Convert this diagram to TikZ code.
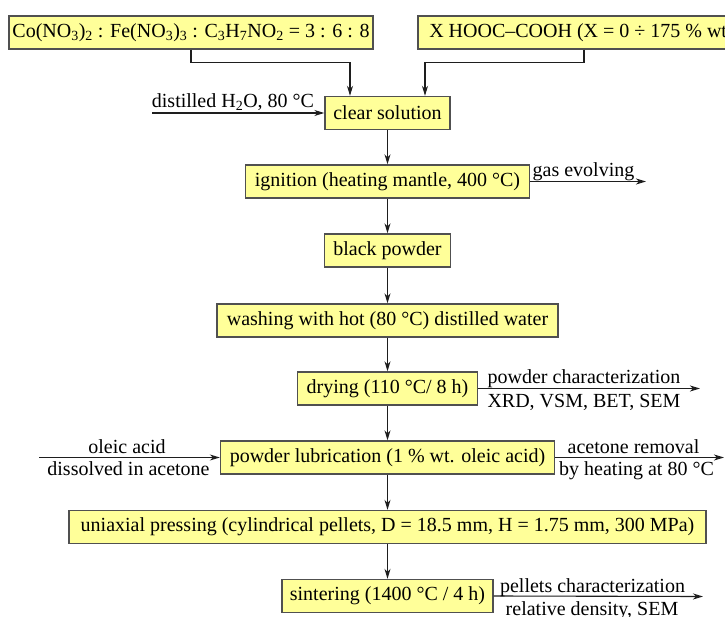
\documentclass[tikz,border=0pt]{standalone}
\usepackage{fontspec}
\setmainfont{Liberation Serif}
\usetikzlibrary{arrows.meta}
\definecolor{boxfill}{RGB}{255,255,153}
\definecolor{boxline}{RGB}{80,80,80}
\definecolor{linec}{RGB}{30,30,30}
\begin{document}
\begin{tikzpicture}[x=1pt,y=-1pt,
  stepbox/.style={draw=boxline, fill=boxfill, line width=1.4pt, inner sep=0pt,
    minimum height=33pt, font=\fontsize{20}{24}\selectfont},
  lbl/.style={inner sep=0pt, font=\fontsize{20}{24}\selectfont, text=black},
  arr/.style={draw=linec, line width=1.1pt, -{Stealth[length=10pt,width=6pt,inset=3pt]}}]
\useasboundingbox (0,0) rectangle (725,617);
\fill[white] (0,0) rectangle (725,617);
\clip (0,0) rectangle (725,617);

\node[stepbox, minimum width=364pt] (b1) at (191,32.5)
  {Co(NO\textsubscript{3})\textsubscript{2} : Fe(NO\textsubscript{3})\textsubscript{3} : C\textsubscript{3}H\textsubscript{7}NO\textsubscript{2} = 3 : 6 : 8};
\node[stepbox, minimum width=332pt] (b2) at (584,32.5) {X HOOC–COOH (X = 0 ÷ 175 \% wt.)};
\node[stepbox, minimum width=125pt] (cs) at (387.5,113) {clear solution};
\node[stepbox, minimum width=284pt] (ign) at (387.5,181.5) {ignition (heating mantle, 400 °C)};
\node[stepbox, minimum width=126pt] (bp) at (387.5,250.5) {black powder};
\node[stepbox, minimum width=341pt] (wash) at (387.5,320.5) {washing with hot (80 °C) distilled water};
\node[stepbox, minimum width=180pt] (dry) at (387.5,388.5) {drying (110 °C/ 8 h)};
\node[stepbox, minimum width=334pt] (lub) at (387.5,457.5) {powder lubrication (1 \% wt. oleic acid)};
\node[stepbox, minimum width=637pt] (pres) at (387.5,527) {uniaxial pressing (cylindrical pellets, D = 18.5 mm, H = 1.75 mm, 300 MPa)};
\node[stepbox, minimum width=211pt] (sint) at (387.5,596) {sintering (1400 °C / 4 h)};

% top connectors
\draw[arr] (b1.south) -- ++(0,13) -| ([xshift=-37.5pt]cs.north);
\draw[arr] (b2.south) -- ++(0,13) -| ([xshift=37.5pt]cs.north);

% main chain
\draw[arr] (cs) -- (ign);
\draw[arr] (ign) -- (bp);
\draw[arr] (bp) -- (wash);
\draw[arr] (wash) -- (dry);
\draw[arr] (dry) -- (lub);
\draw[arr] (lub) -- (pres);
\draw[arr] (pres) -- (sint);

% side inputs / outputs
\coordinate (h2o) at (152,113);
\draw[arr] (h2o) -- (cs.west);
\node[lbl, anchor=base] (lh2o) at (233,107.5) {distilled H\textsubscript{2}O, 80 °C};

\coordinate (gas) at (646,181.5);
\draw[arr] (ign.east) -- (gas);
\node[lbl, anchor=base] (lgas) at (583.5,177) {gas evolving};

\coordinate (dryout) at (700,388.5);
\draw[arr] (dry.east) -- (dryout);
\node[lbl, anchor=base] (ldry1) at (584,383.5) {powder characterization};
\node[lbl, anchor=base] (ldry2) at (584,407.5) {XRD, VSM, BET, SEM};

\coordinate (oleic) at (39,457.5);
\draw[arr] (oleic) -- (lub.west);
\node[lbl, anchor=base] (lol1) at (127,453) {oleic acid};
\node[lbl, anchor=base] (lol2) at (128.5,475.5) {dissolved in acetone};

\coordinate (acet) at (724,457.5);
\draw[arr] (lub.east) -- (acet);
\node[lbl, anchor=base] (lac1) at (633.5,453) {acetone removal};
\node[lbl, anchor=base] (lac2) at (636.5,475.5) {by heating at 80 °C};

\coordinate (pel) at (703,596.5);
\draw[arr] (sint.east) -- (pel);
\node[lbl, anchor=base] (lpel1) at (592.5,592) {pellets characterization};
\node[lbl, anchor=base] (lpel2) at (592,615) {relative density, SEM};
\end{tikzpicture}
\end{document}
